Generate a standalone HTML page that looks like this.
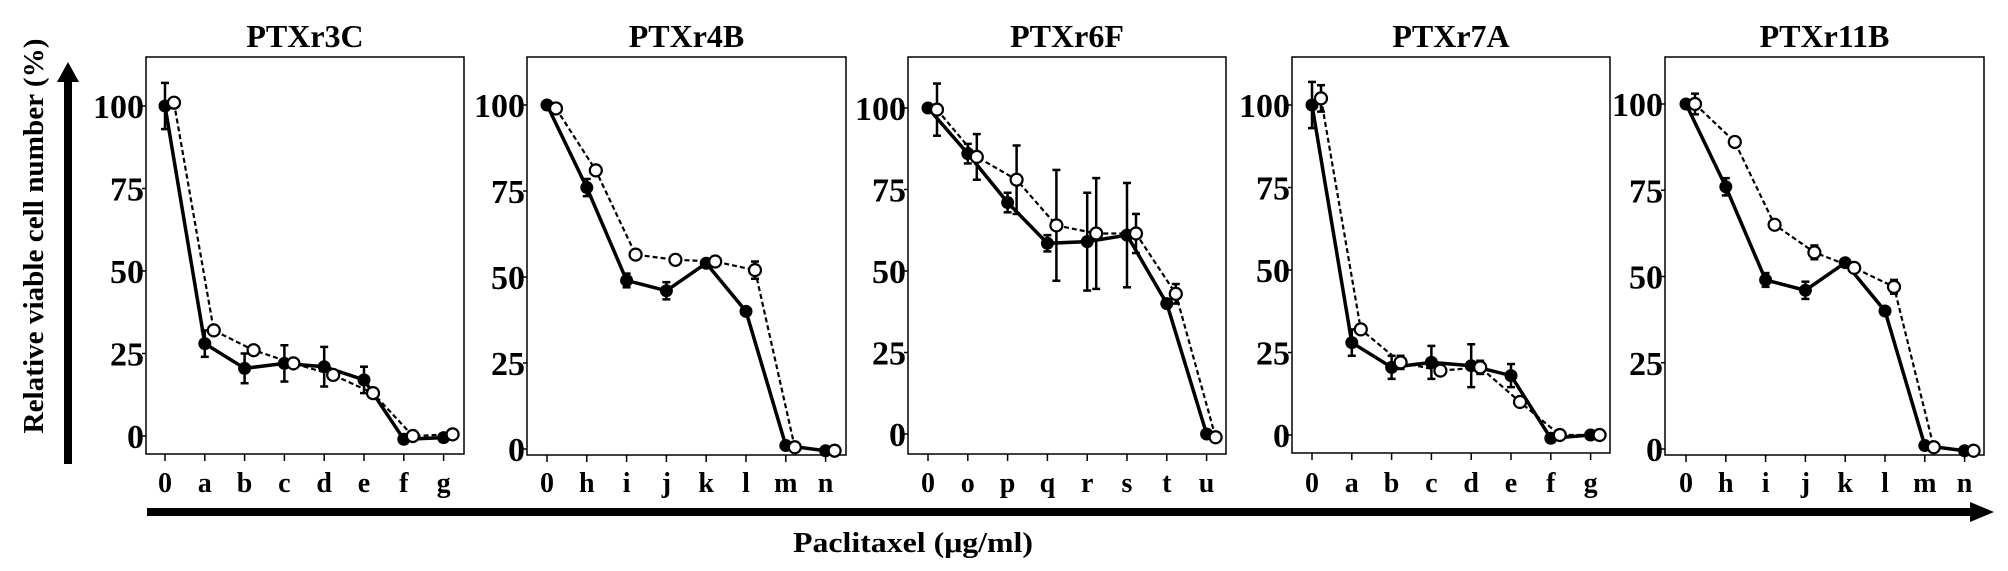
<!DOCTYPE html>
<html>
<head>
<meta charset="utf-8">
<style>
html,body{margin:0;padding:0;background:#fff;}
svg{display:block;}
text{font-family:"Liberation Serif",serif;font-weight:bold;fill:#000;}
</style>
</head>
<body>
<svg id="fig" width="2008" height="571" viewBox="0 0 2008 571" xmlns="http://www.w3.org/2000/svg">
  <g>
    <rect x="64" y="80" width="8" height="384" fill="#000"/>
    <polygon points="57,82 79,82 68,62" fill="#000"/>
  </g>
  <text transform="translate(43,236) rotate(-90)" text-anchor="middle" font-size="29" textLength="395" lengthAdjust="spacingAndGlyphs">Relative viable cell number (%)</text>
  <g>
    <rect x="147" y="508" width="1826" height="8" fill="#000"/>
    <polygon points="1970,502 1970,522 1994,512" fill="#000"/>
  </g>
  <text x="913" y="552" text-anchor="middle" font-size="28" textLength="240" lengthAdjust="spacingAndGlyphs">Paclitaxel (μg/ml)</text>
  <g id="panels"></g>
</svg>
<script>
const titles = ["PTXr3C","PTXr4B","PTXr6F","PTXr7A","PTXr11B"];
const cats1 = ["0","a","b","c","d","e","f","g"];
const cats2 = ["0","h","i","j","k","l","m","n"];
const cats3 = ["0","o","p","q","r","s","t","u"];
const cats4 = ["0","a","b","c","d","e","f","g"];
const cats5 = ["0","h","i","j","k","l","m","n"];
const yTicks = [0,25,50,75,100];

const filled1 = [100,28,20.5,22,21,17,-1,-0.5];
const filledErr1 = [7,4,4.5,5.5,6,4,0,0];
const open1 = [101,32,26,22,18.5,13,0,0.5];
const openErr1 = [0,0,0,0,0,0,0,0];

const filled2 = [100,76,49,46,54,40,1,-0.5];
const filledErr2 = [0,2.5,2,2.5,0,0,0,0];
const open2 = [99,81,56.5,55,54.5,52,0.5,-0.5];
const openErr2 = [0,0,0,0,0,2.5,0,0];

const filled3 = [100,86,71,58.5,59,61,40,0];
const filledErr3 = [0,3,3,2.5,15,16,0,0];
const open3 = [99.5,85,78,64,61.5,61.5,43,-1];
const openErr3 = [8,7,10.5,17,17,6,3,0];

const filled4 = [100,28,20.5,22,21,18,-1,0];
const filledErr4 = [7,4,3.5,5,6.5,3.5,0,0];
const open4 = [102,32,22,19.5,20.5,10,0,0];
const openErr4 = [4,0,2,0,2,0,0,0];

const filled5 = [100,76,49,46,54,40,1,-0.5];
const filledErr5 = [0,2.5,2,2.5,0,0,0,0];
const open5 = [100,89,65,57,52.5,47,0.5,-0.5];
const openErr5 = [3,0,0,2,0,2,0,0];

const panelData = [
  [cats1,filled1,filledErr1,open1,openErr1],
  [cats2,filled2,filledErr2,open2,openErr2],
  [cats3,filled3,filledErr3,open3,openErr3],
  [cats4,filled4,filledErr4,open4,openErr4],
  [cats5,filled5,filledErr5,open5,openErr5]
];
const layout = [
  {left:146,right:464,top:57,bottom:454,y100:106,y0:436,x0:165},
  {left:527,right:846,top:57,bottom:455,y100:105,y0:449,x0:547},
  {left:908,right:1226,top:57,bottom:454,y100:108,y0:434,x0:928},
  {left:1292,right:1610,top:57,bottom:453,y100:105,y0:435,x0:1312},
  {left:1665,right:1984,top:57,bottom:455,y100:104,y0:449,x0:1686}
];
const NS="http://www.w3.org/2000/svg";
const root=document.getElementById('panels');
function mk(tag,attrs,parent){const e=document.createElementNS(NS,tag);for(const k in attrs)e.setAttribute(k,attrs[k]);parent.appendChild(e);return e;}

panelData.forEach((pd,pi)=>{
  const [cats,fv,fe,ov,oe]=pd;
  const L=layout[pi];
  const step=39.8;
  const xS=i=>L.x0+i*step;
  const yS=v=>L.y0+(L.y100-L.y0)*v/100;
  const g=mk('g',{},root);
  
  
  const t=mk('text',{x:(L.left+L.right)/2,y:47,'text-anchor':'middle','font-size':32},g);
  
  
  t.textContent=titles[pi];
  const box=mk('rect',{x:L.left,y:L.top,width:L.right-L.left,height:L.bottom-L.top,fill:'none',stroke:'#000','stroke-width':1.5},g);
  
  
  yTicks.forEach(v=>{
    const y=yS(v);
    mk('line',{x1:L.left-4,x2:L.left,y1:y,y2:y,stroke:'#000','stroke-width':1.5},g);
    const s=String(v);
    const tx=mk('text',{x:L.left-2,y:y+12,'text-anchor':'end','font-size':34,textLength:s.length*17,lengthAdjust:'spacingAndGlyphs'},g);
    
    
    tx.textContent=s;
  });
  cats.forEach((c,i)=>{
    const x=xS(i);
    mk('line',{x1:x,x2:x,y1:L.bottom,y2:L.bottom+7,stroke:'#000','stroke-width':1.5},g);
    const tx=mk('text',{x:x,y:492,'text-anchor':'middle','font-size':28},g);
    
    
    tx.textContent=c;
  });
  const off=9;
  let d='';ov.forEach((v,i)=>{d+=(i?'L':'M')+(xS(i)+off)+','+yS(v);});
  const ol=mk('path',{d:d,fill:'none',stroke:'#000','stroke-width':2.2,'stroke-dasharray':'5,3'},g);
  
  
  d='';fv.forEach((v,i)=>{d+=(i?'L':'M')+xS(i)+','+yS(v);});
  const fl=mk('path',{d:d,fill:'none',stroke:'#000','stroke-width':3.5},g);
  
  
  function err(x,v,e){
    if(!e)return;
    const a=yS(v+e),b=yS(v-e);
    const eg=mk('g',{stroke:'#000','stroke-width':2.5},g);
    
    
    mk('line',{x1:x,x2:x,y1:a,y2:b},eg);
    mk('line',{x1:x-4,x2:x+4,y1:a,y2:a},eg);
    mk('line',{x1:x-4,x2:x+4,y1:b,y2:b},eg);
  }
  fv.forEach((v,i)=>err(xS(i),v,fe[i]));
  ov.forEach((v,i)=>err(xS(i)+off,v,oe[i]));
  fv.forEach((v,i)=>{
    const c=mk('circle',{cx:xS(i),cy:yS(v),r:6.5,fill:'#000'},g);
    
    
  });
  ov.forEach((v,i)=>{
    const c=mk('circle',{cx:xS(i)+off,cy:yS(v),r:6,fill:'#fff',stroke:'#000','stroke-width':2.2},g);
    
    
  });
});
</script>
</body>
</html>
